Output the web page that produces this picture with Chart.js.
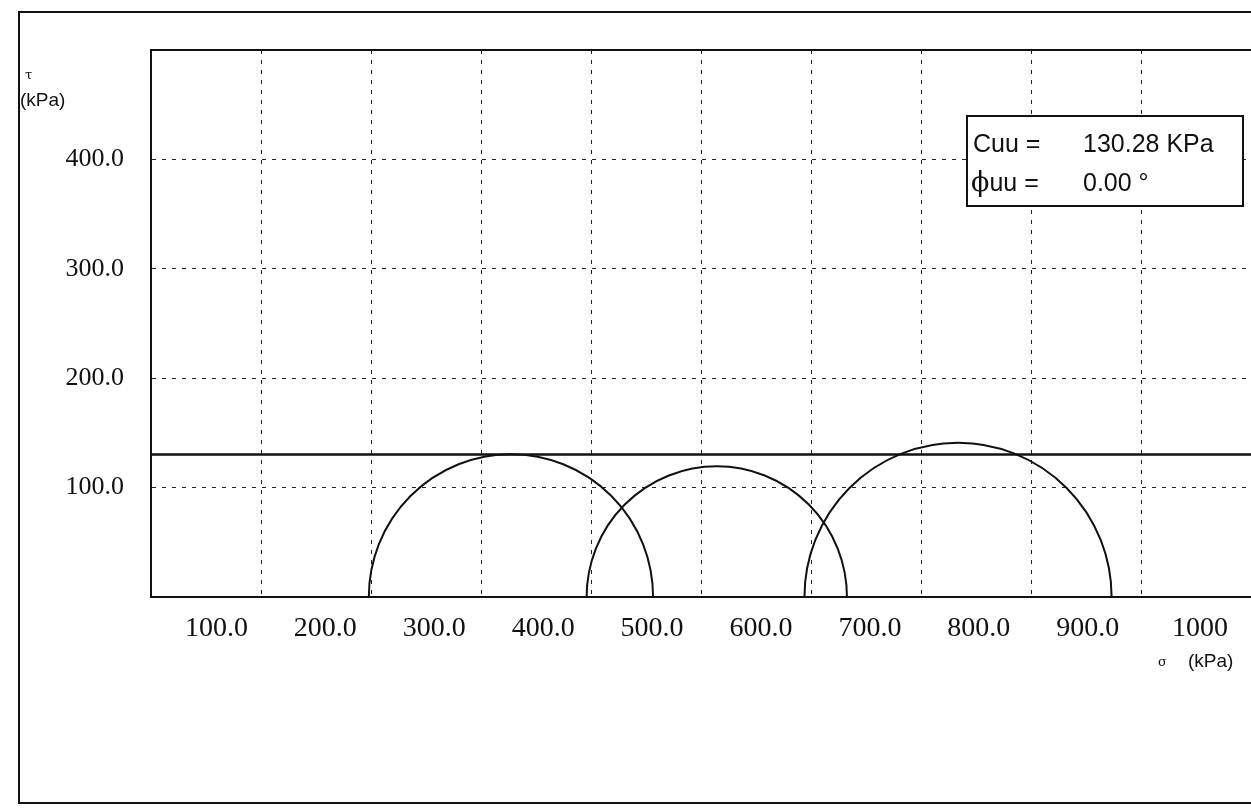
<!DOCTYPE html>
<html>
<head>
<meta charset="utf-8">
<title>Mohr circles UU</title>
<script src="https://cdn.jsdelivr.net/npm/chart.js@4.4.0/dist/chart.umd.min.js"></script>
<style>
	html, body { margin: 0; padding: 0; background: #fff; overflow: hidden; }
	#wrap { position: relative; width: 1251px; height: 810px; }
	#chart { position: absolute; left: 0; top: 0; }
	#frame {
		position: absolute; left: 18px; top: 11px; width: 1320px; height: 793px;
		border: 2px solid #111; box-sizing: border-box; pointer-events: none;
	}
	.lbl { position: absolute; color: #111; white-space: pre; font-family: 'Liberation Sans', Arial, sans-serif; }
	#tau { left: 25px; top: 67px; font-family: 'DejaVu Serif', serif; font-size: 13px; }
	#tauUnit { left: 20px; top: 89px; font-size: 19px; }
	#sigma { left: 1158px; top: 654px; font-family: 'DejaVu Serif', serif; font-size: 13px; }
	#sigmaUnit { left: 1188px; top: 650px; font-size: 19px; }
	#cuuBox {
		position: absolute; left: 966px; top: 115px; width: 278px; height: 92px;
		border: 2px solid #111; box-sizing: border-box; background: #fff;
		font-family: 'Liberation Sans', Arial, sans-serif; font-size: 25px; color: #111;
	}
	#cuuBox div { position: absolute; line-height: 28px; white-space: pre; }
	.phi { font-family: 'DejaVu Serif', serif; font-size: 27px; }
</style>
</head>
<body>
<div id="wrap">
	<canvas id="chart" width="1251" height="810"></canvas>
	<div id="frame"></div>
	<div class="lbl" id="tau">τ</div>
	<div class="lbl" id="tauUnit">(kPa)</div>
	<div class="lbl" id="sigma">σ</div>
	<div class="lbl" id="sigmaUnit">(kPa)</div>
	<div id="cuuBox">
		<div style="left:5px; top:12px;">Cuu =</div>
		<div style="left:115px; top:12px;">130.28 KPa</div>
		<div style="left:3px; top:51px;"><span class="phi">ϕ</span>uu =</div>
		<div style="left:115px; top:51px;">0.00 °</div>
	</div>
</div>
<script>
// Mohr circles (UU test)
const sigma3 = [200, 400, 600]
const sigma1 = [461, 639, 882]
const cuu = [130.28]
const envelopeX = [0, 1010]

const xTickValues = [100, 200, 300, 400, 500, 600, 700, 800, 900, 1000]
const xTickText = ['100.0', '200.0', '300.0', '400.0', '500.0', '600.0', '700.0', '800.0', '900.0', '1000']
const yTickValues = [100, 200, 300, 400]
const yTickText = ['100.0', '200.0', '300.0', '400.0']

function tickLabel(values, texts) {
	return function (value) {
		const i = values.indexOf(Math.round(value))
		return i >= 0 ? texts[i] : ''
	}
}

// half circles, plot frame top and sigma labels, all placed through the chart scales
const mohrCircles = {
	id: 'mohrCircles',
	afterDatasetsDraw(chart) {
		const { ctx, chartArea } = chart
		const x = chart.scales.x
		const y = chart.scales.y
		ctx.save()
		ctx.beginPath()
		ctx.rect(chartArea.left, chartArea.top, chartArea.width, chartArea.height)
		ctx.clip()
		ctx.strokeStyle = '#111'
		ctx.lineWidth = 2
		for (let i = 0; i < sigma3.length; i++) {
			const c = (sigma1[i] + sigma3[i]) / 2
			const r = (sigma1[i] - sigma3[i]) / 2
			const cx = x.getPixelForValue(c)
			const cy = y.getPixelForValue(0)
			const rx = x.getPixelForValue(c + r) - cx
			const ry = cy - y.getPixelForValue(r)
			ctx.beginPath()
			ctx.ellipse(cx, cy, rx, ry, 0, Math.PI, 2 * Math.PI)
			ctx.stroke()
		}
		ctx.restore()
	},
	afterDraw(chart) {
		const { ctx, chartArea } = chart
		const x = chart.scales.x
		ctx.save()
		ctx.strokeStyle = '#111'
		ctx.lineWidth = 2
		ctx.beginPath()
		ctx.moveTo(chartArea.left, chartArea.top)
		ctx.lineTo(chartArea.right, chartArea.top)
		ctx.stroke()

		// x tick labels sit just left of their grid line, like the original printout
		ctx.fillStyle = '#111'
		ctx.font = '28px "Liberation Serif", serif'
		ctx.textAlign = 'right'
		ctx.textBaseline = 'middle'
		for (let i = 0; i < xTickValues.length; i++) {
			ctx.fillText(xTickText[i], x.getPixelForValue(xTickValues[i]) - 12, chartArea.bottom + 32)
		}
		ctx.restore()
	},
}

const ctx = document.getElementById('chart').getContext('2d')
new Chart(ctx, {
	type: 'scatter',
	data: {
		datasets: [
			{
				label: 'Cuu',
				data: envelopeX.map(v => ({ x: v, y: cuu[0] })),
				showLine: true,
				borderColor: '#111',
				borderWidth: 2.5,
				pointRadius: 0,
			},
		],
	},
	options: {
		responsive: false,
		devicePixelRatio: 1,
		animation: false,
		layout: { padding: { top: 50, right: 0, bottom: 213, left: 0 } },
		plugins: {
			legend: { display: false },
			tooltip: { enabled: false },
		},
		scales: {
			x: {
				type: 'linear',
				min: 0,
				max: 1010,
				afterFit(scale) {
					scale.height = 0
					scale.paddingRight = 0
				},
				ticks: {
					display: false,
					stepSize: 100,
					includeBounds: false,
					autoSkip: false,
				},
				grid: { color: '#222', lineWidth: 1, drawTicks: false },
				border: { color: '#111', width: 2, dash: [4, 6] },
			},
			y: {
				type: 'linear',
				min: 0,
				max: 500,
				afterFit(scale) {
					scale.width = 151
				},
				ticks: {
					stepSize: 100,
					autoSkip: false,
					padding: 27,
					color: '#111',
					font: { family: 'Liberation Serif', size: 26 },
					callback: tickLabel(yTickValues, yTickText),
				},
				grid: { color: '#222', lineWidth: 1, drawTicks: false },
				border: { color: '#111', width: 2, dash: [4, 6] },
			},
		},
	},
	plugins: [mohrCircles],
})
</script>
</body>
</html>
